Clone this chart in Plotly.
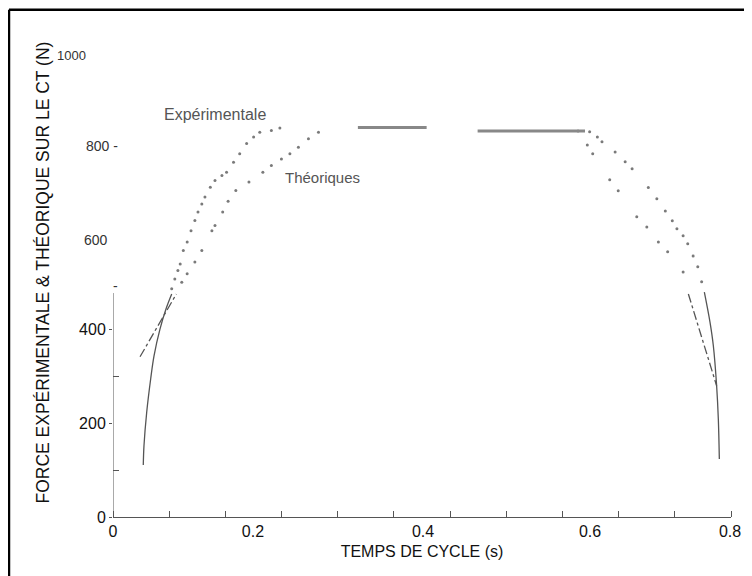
import plotly.graph_objects as go

# force (N) against cycle time (s)
exp_rise_t = [0.0392, 0.0401, 0.0436, 0.0488, 0.0531, 0.0608, 0.0686, 0.0760]
exp_rise_f = [111, 152, 223, 295, 344, 401, 444, 476]

theo_rise_t = [0.035, 0.082]
theo_rise_f = [342, 476]

exp_dots_left_t = [0.076, 0.080, 0.084, 0.087, 0.091, 0.096, 0.101, 0.106, 0.110, 0.115, 0.119,
                   0.126, 0.132, 0.141, 0.147, 0.156, 0.164, 0.173, 0.182, 0.190, 0.205, 0.216]
exp_dots_left_f = [487, 508, 526, 540, 569, 587, 611, 633, 651, 668, 683,
                   704, 718, 729, 736, 757, 775, 797, 811, 821, 825, 830]

theo_dots_left_t = [0.089, 0.096, 0.106, 0.115, 0.128, 0.132, 0.142, 0.149, 0.159,
                    0.176, 0.194, 0.205, 0.218, 0.229, 0.240, 0.253, 0.266]
theo_dots_left_f = [501, 519, 544, 569, 611, 622, 651, 674, 697,
                    715, 736, 750, 764, 775, 789, 807, 821]

plateau1_t = [0.317, 0.406]
plateau1_f = [831, 831]
plateau2_t = [0.472, 0.611]
plateau2_f = [824, 824]

exp_dots_right_t = [0.602, 0.617, 0.627, 0.633, 0.650, 0.663, 0.672, 0.693, 0.704,
                    0.715, 0.724, 0.730, 0.738, 0.744, 0.751, 0.757, 0.762]
exp_dots_right_f = [824, 822, 811, 801, 779, 758, 743, 703, 679,
                    653, 632, 615, 600, 583, 557, 534, 502]

theo_dots_right_t = [0.614, 0.621, 0.643, 0.654, 0.678, 0.691, 0.706, 0.718, 0.738]
theo_dots_right_f = [794, 775, 720, 696, 641, 619, 587, 566, 523]

exp_fall_t = [0.7655, 0.7728, 0.7771, 0.7814, 0.7836, 0.7849]
exp_fall_f = [480, 416, 366, 280, 209, 124]

theo_fall_t = [0.7448, 0.7814]
theo_fall_f = [476, 280]

x_label_pos = [0, 0.1812, 0.4013, 0.6175, 0.7987]
x_label_text = ["0", "0.2", "0.4", "0.6", "0.8"]

FONT = "Arial, Liberation Sans, sans-serif"

fig = go.Figure()

# solid / dash-dot lower parts
for t, f, dash in [(exp_rise_t, exp_rise_f, "solid"), (exp_fall_t, exp_fall_f, "solid"),
                   (theo_rise_t, theo_rise_f, "dashdot"), (theo_fall_t, theo_fall_f, "dashdot")]:
    fig.add_trace(go.Scatter(x=t, y=f, mode="lines", line=dict(color="#555555", width=1.3, dash=dash,
                                                                shape="spline"),
                             showlegend=False, hoverinfo="skip"))

# dotted upper parts
for t, f in [(exp_dots_left_t, exp_dots_left_f), (theo_dots_left_t, theo_dots_left_f),
             (exp_dots_right_t, exp_dots_right_f), (theo_dots_right_t, theo_dots_right_f)]:
    fig.add_trace(go.Scatter(x=t, y=f, mode="markers", marker=dict(color="#7a7a7a", size=3),
                             showlegend=False, hoverinfo="skip"))

for t, f in [(plateau1_t, plateau1_f), (plateau2_t, plateau2_f)]:
    fig.add_trace(go.Scatter(x=t, y=f, mode="lines", line=dict(color="#888888", width=3),
                             showlegend=False, hoverinfo="skip"))

fig.update_xaxes(
    range=[0, 0.8], showgrid=False, zeroline=False,
    showline=True, linecolor="#555555", linewidth=1,
    tickmode="array", tickvals=x_label_pos, ticktext=x_label_text, ticks="",
    tickfont=dict(family=FONT, size=16, color="#111111"),
    minor=dict(tickmode="array", tickvals=[i * 0.8 / 11 for i in range(12)],
               ticks="inside", ticklen=6, tickcolor="#555555"),
    title=dict(text="TEMPS DE CYCLE (s)", font=dict(family=FONT, size=16, color="#111111"), standoff=6),
)
fig.update_yaxes(
    range=[0, 1050], showgrid=False, zeroline=False, showline=False,
    tickmode="array", tickvals=[0, 200, 400], ticktext=["0", "200", "400"],
    ticks="outside", ticklen=3, tickcolor="#555555",
    tickfont=dict(family=FONT, size=16, color="#111111"),
    minor=dict(tickmode="array", tickvals=[100, 300], ticks="inside", ticklen=6, tickcolor="#555555"),
)

shapes = [
    # y axis line only on the lower part
    dict(type="line", xref="x", yref="y", x0=0, x1=0, y0=0, y1=478, line=dict(color="#555555", width=1)),
    # frame of the scanned figure
    dict(type="line", xref="paper", yref="paper", x0=-0.1683, x1=-0.1683, y0=-0.13, y1=1.031,
         line=dict(color="black", width=2.5)),
    dict(type="line", xref="paper", yref="paper", x0=-0.1683, x1=1.05, y0=1.031, y1=1.031,
         line=dict(color="black", width=2.5)),
]

upper = dict(xref="paper", yref="y", xanchor="right", showarrow=False)
annotations = [
    dict(text="FORCE EXPÉRIMENTALE & THÉORIQUE SUR LE CT (N)", textangle=-90,
         xref="paper", yref="paper", x=-0.114, y=0.496, xanchor="center", yanchor="middle",
         showarrow=False, font=dict(family=FONT, size=17.5, color="#111111")),
    dict(text="Expérimentale", xref="x", yref="y", x=0.0633, y=860, xanchor="left",
         showarrow=False, font=dict(family=FONT, size=16, color="#555555")),
    dict(text="Théoriques", xref="x", yref="y", x=0.2201, y=725, xanchor="left",
         showarrow=False, font=dict(family=FONT, size=15, color="#555555")),
    dict(text="1000", x=-0.041, y=985, font=dict(family=FONT, size=13, color="#333333"), **upper),
    dict(text="800 -", x=0.0113, y=791, font=dict(family=FONT, size=14, color="#333333"), **upper),
    dict(text="600", x=-0.0049, y=592, font=dict(family=FONT, size=14, color="#333333"), **upper),
    dict(text="-", x=0.0113, y=493, font=dict(family=FONT, size=14, color="#333333"), **upper),
]

# the page body has an 8 px margin, so the figure is 8 px smaller and shifted
fig.update_layout(
    width=744, height=568,
    margin=dict(l=105, r=21, t=17, b=59),
    plot_bgcolor="white", paper_bgcolor="white",
    shapes=shapes, annotations=annotations,
    font=dict(family=FONT),
)

fig.write_html("out.html")
